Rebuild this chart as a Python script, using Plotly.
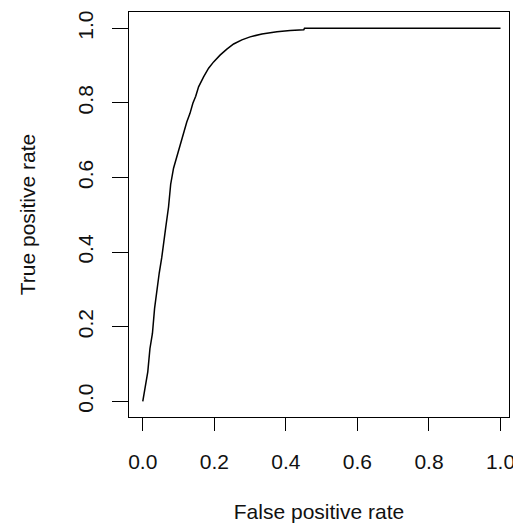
import plotly.graph_objects as go

# ROC curve points (false positive rate, true positive rate)
fpr = [0.000, 0.006, 0.014, 0.020, 0.027, 0.033, 0.040, 0.046, 0.053, 0.059,
       0.064, 0.072, 0.078, 0.086, 0.095, 0.102, 0.109, 0.116, 0.123, 0.132,
       0.140, 0.148, 0.156, 0.170, 0.184, 0.198, 0.216, 0.235, 0.254, 0.277,
       0.300, 0.333, 0.375, 0.412, 0.450, 0.452, 1.000]
tpr = [0.000, 0.031, 0.079, 0.141, 0.182, 0.249, 0.309, 0.344, 0.385, 0.423,
       0.465, 0.521, 0.582, 0.625, 0.655, 0.678, 0.700, 0.726, 0.749, 0.772,
       0.799, 0.818, 0.843, 0.870, 0.893, 0.910, 0.928, 0.944, 0.958, 0.969,
       0.977, 0.985, 0.991, 0.994, 0.996, 1.000, 1.000]

x_ticks = [0.0, 0.2, 0.4, 0.6, 0.8, 1.0]
y_ticks = [0.0, 0.2, 0.4, 0.6, 0.8, 1.0]
tick_text = ["0.0", "0.2", "0.4", "0.6", "0.8", "1.0"]

FONT = "Liberation Sans, Arial, sans-serif"
INK = "#111111"

fig = go.Figure(
    go.Scatter(
        x=fpr, y=tpr, mode="lines",
        line=dict(color="black", width=1.5),
        hoverinfo="skip",
    )
)

axis_common = dict(
    automargin=False,
    showgrid=False, zeroline=False,
    showline=True, linecolor="black", linewidth=1, mirror=True,
    ticks="outside", tickcolor="black", tickwidth=1,
    ticklabeloverflow="allow",
    tickfont=dict(family=FONT, size=21, color=INK),
    title_font=dict(family=FONT, size=21, color=INK),
)

fig.update_layout(
    width=513, height=530,
    margin=dict(l=129, r=4, t=12, b=113),
    paper_bgcolor="white", plot_bgcolor="white",
    showlegend=False,
    xaxis=dict(
        axis_common,
        range=[-0.0385, 1.0237],
        tickvals=x_ticks, ticktext=tick_text, ticklen=13,
        ticklabelstandoff=13,
        title=dict(text="False positive rate", standoff=32),
    ),
    yaxis=dict(
        axis_common,
        range=[-0.042, 1.0437],
        tickvals=y_ticks, ticktext=tick_text, ticklen=16,
        ticklabelstandoff=11,
        tickangle=-90,
        title=dict(text="True positive rate", standoff=32),
    ),
)

fig.write_html("out.html")
